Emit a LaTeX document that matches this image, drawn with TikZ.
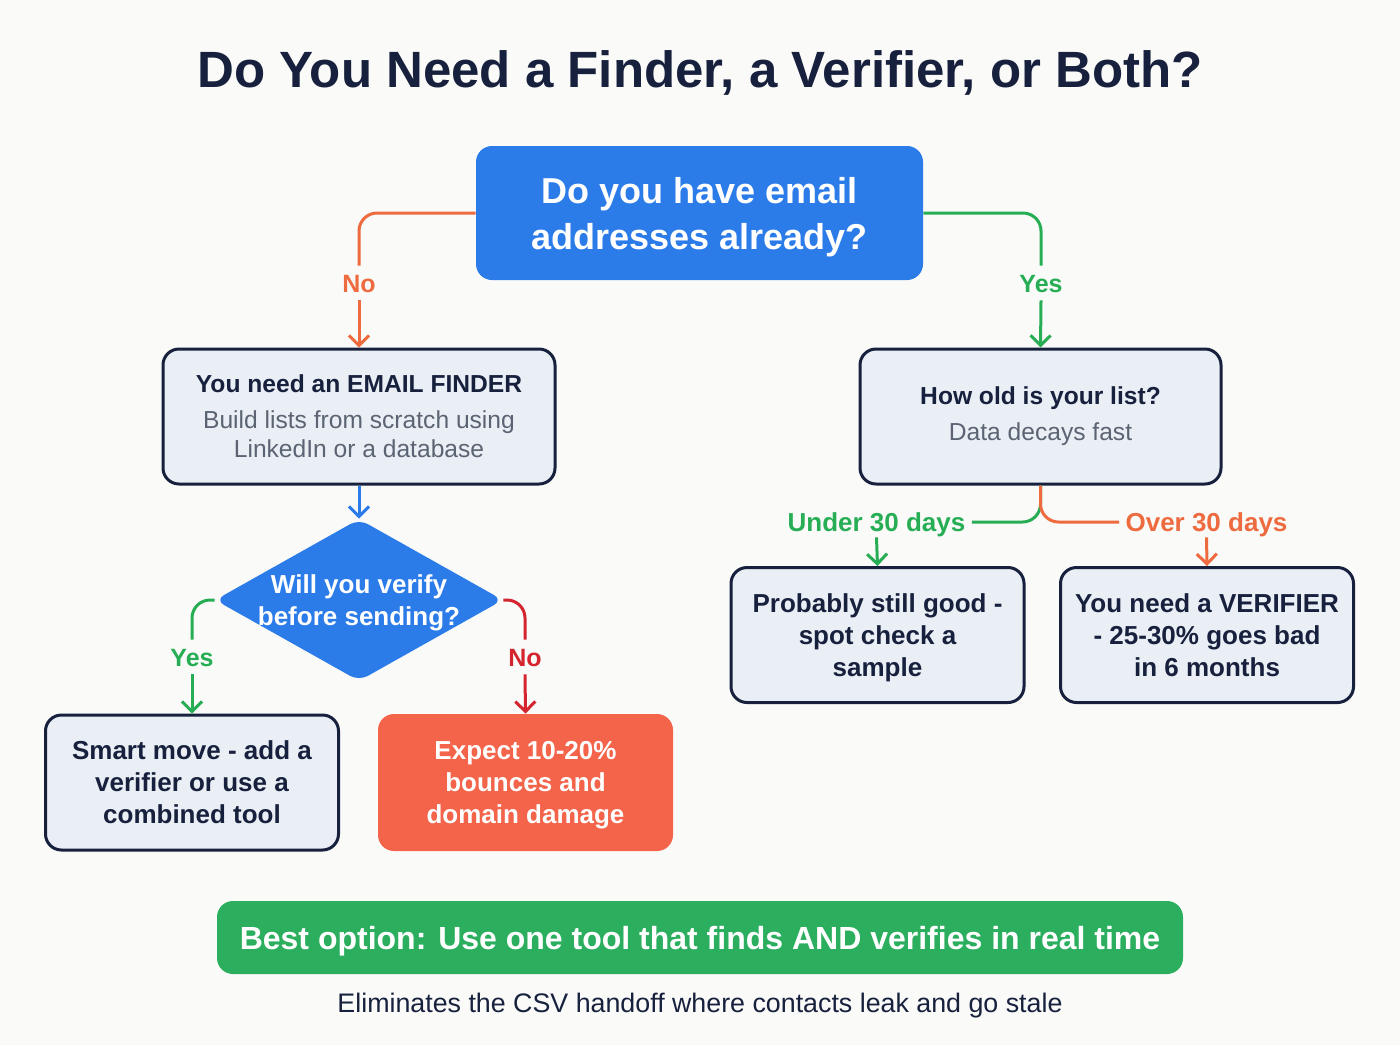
\documentclass[tikz,border=0pt]{standalone}
\usepackage{fontspec}
\setmainfont{Liberation Sans}
\usepackage{xcolor}
\usetikzlibrary{positioning,arrows.meta,shapes.geometric}
\definecolor{qblue}{HTML}{2B7CE9}
\definecolor{navy}{HTML}{17213D}
\definecolor{boxfill}{HTML}{EAEEF5}
\definecolor{subgray}{HTML}{5B6472}
\definecolor{orng}{HTML}{EE6A3F}
\definecolor{grn}{HTML}{27AE55}
\definecolor{bestgrn}{HTML}{2BAE5E}
\definecolor{redline}{HTML}{D4252F}
\definecolor{coral}{HTML}{F3644A}
\definecolor{bgwhite}{HTML}{FAFAF9}
\tikzset{
  qbox/.style={fill=qblue,rounded corners=8pt,text=white,align=center,text depth=0pt,font=\bfseries\fontsize{18}{23}\selectfont},
  stepbox/.style={draw=navy,line width=1.5pt,fill=boxfill,rounded corners=8pt,align=center,text=navy},
  leafbox/.style={stepbox,text depth=0pt,font=\bfseries\fontsize{13}{16}\selectfont,minimum width=146.5pt,minimum height=67.5pt},
  badbox/.style={fill=coral,rounded corners=8pt,align=center,text=white,text depth=0pt,font=\bfseries\fontsize{13}{16}\selectfont,minimum width=147.5pt,minimum height=68.5pt},
  dia/.style={diamond,aspect=1.76,fill=qblue,rounded corners=5pt,inner sep=0pt},
  lbl/.style={font=\bfseries\fontsize{12.5}{15}\selectfont,inner sep=4pt,text height=9pt,text depth=0pt},
  flow/.style={line width=1.5pt,rounded corners=9pt},
  tip/.style={-{Straight Barb[length=5pt,width=10pt]}},
}
\begin{document}
\begin{tikzpicture}[x=0.5pt,y=-0.5pt]
  \fill[bgwhite] (0,0) rectangle (1400,1045);
  \useasboundingbox (0,0) rectangle (1400,1045);
  \node[text=navy,font=\bfseries\fontsize{25.5}{30}\selectfont] (title) at (700,73) {Do You Need a Finder, a Verifier, or Both?};
  \node[qbox,minimum width=223.5pt,minimum height=67pt] (have) at (699.5,213) {Do you have email\\addresses already?};
  \node[stepbox,minimum width=196pt,minimum height=67.5pt,font=\fontsize{12.3}{14.5}\selectfont] (finder) at (359,416.5)
    {\bfseries You need an EMAIL FINDER\\[3.5pt]\textcolor{subgray}{Build lists from scratch using}\\\textcolor{subgray}{LinkedIn or a database}};
  \node[stepbox,minimum width=180.5pt,minimum height=67.5pt,font=\fontsize{12.3}{14.5}\selectfont] (age) at (1040.5,416.5)
    {\bfseries How old is your list?\\[3.5pt]\textcolor{subgray}{Data decays fast}};
  \node[dia,minimum width=144pt,minimum height=81pt] (verify) at (359,600) {};
  \node[text=white,align=center,text depth=0pt,font=\bfseries\fontsize{13}{16}\selectfont] (verifytxt) at (359,600) {Will you verify\\before sending?};
  \node[leafbox] (smart) at (192,782.5) {Smart move - add a\\verifier or use a\\combined tool};
  \node[badbox] (expect) at (525.5,782.5) {Expect 10-20\%\\bounces and\\domain damage};
  \node[leafbox] (good) at (877.5,635) {Probably still good -\\spot check a\\sample};
  \node[leafbox] (verifier) at (1207,635) {You need a VERIFIER\\- 25-30\% goes bad\\in 6 months};
  \node[fill=bestgrn,rounded corners=8pt,text=white,text depth=0pt,font=\bfseries\fontsize{16}{19}\selectfont,minimum width=483pt,minimum height=36.5pt] (best) at (700,937.5)
    {Best option: Use one tool that finds AND verifies in real time};
  \node[text=navy,text depth=0pt,font=\fontsize{13.4}{16}\selectfont] (footer) at (700,1003) {Eliminates the CSV handoff where contacts leak and go stale};
  % labels on the branches
  \node[lbl,text=orng] (no1) at (359,283) {No};
  \node[lbl,text=grn] (yes1) at (1041,283) {Yes};
  \node[lbl,text=grn] (yes2) at (192,657) {Yes};
  \node[lbl,text=redline] (no2) at (525,657) {No};
  \node[lbl,text=grn,font=\bfseries\fontsize{13}{15}\selectfont,inner sep=3pt] (under) at (876.5,522) {Under 30 days};
  \node[lbl,text=orng,font=\bfseries\fontsize{13}{15}\selectfont,inner sep=3pt] (over) at (1206.5,522) {Over 30 days};
  % connectors
  \draw[flow,orng] (have.west) -| (no1.north);
  \draw[flow,orng,tip] (no1.south) -- (finder.north);
  \draw[flow,grn] (have.east) -| (yes1.north);
  \draw[flow,grn,tip] (yes1.south) -- (age.north);
  \draw[flow,qblue,tip] (finder.south) -- (verify.north);
  \draw[flow,grn] (verify.west) -| (yes2.north);
  \draw[flow,grn,tip] (yes2.south) -- (smart.north);
  \draw[flow,redline] (verify.east) -| (no2.north);
  \draw[flow,redline,tip] (no2.south) -- (expect.north);
  \draw[flow,grn] (age.south) |- (under.east);
  \draw[flow,orng] (age.south) |- (over.west);
  \draw[flow,grn,tip] (under.south) -- (good.north);
  \draw[flow,orng,tip] (over.south) -- (verifier.north);
\end{tikzpicture}
\end{document}
